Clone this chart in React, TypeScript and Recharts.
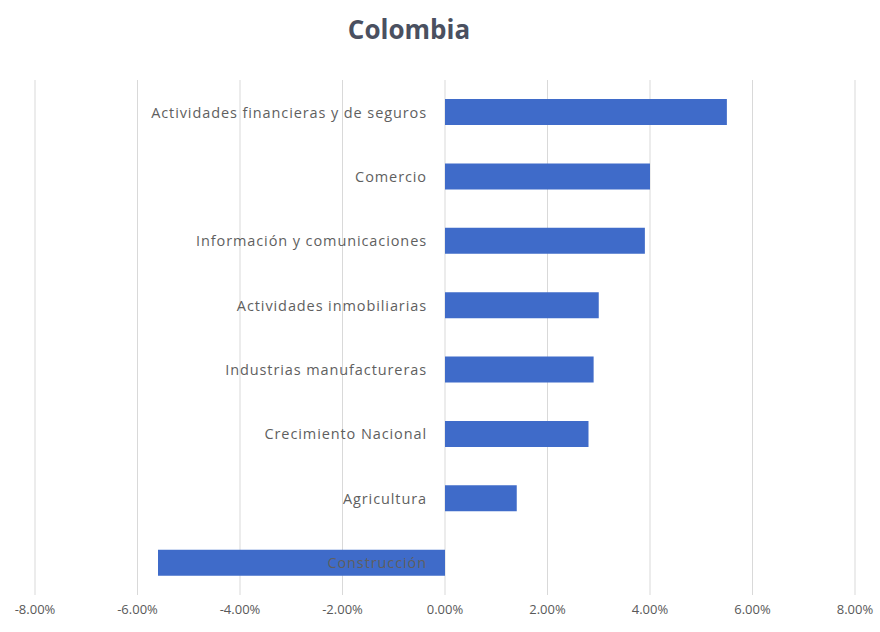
import React from "react";
import { BarChart, Bar, XAxis, YAxis, CartesianGrid, LabelList } from "recharts";

const categories = [
  "Actividades financieras y de seguros",
  "Comercio",
  "Información y comunicaciones",
  "Actividades inmobiliarias",
  "Industrias manufactureras",
  "Crecimiento Nacional",
  "Agricultura",
  "Construcción",
];
const growth = [5.5, 4.0, 3.9, 3.0, 2.9, 2.8, 1.4, -5.6];
const xTicks = [-8, -6, -4, -2, 0, 2, 4, 6, 8];

const data = categories.map((name, i) => ({ name, value: growth[i] }));

const CategoryLabel = (props: any) => {
  const { x, y, width, height, index } = props;
  const v = growth[index];
  const zeroX = v < 0 ? (width < 0 ? x : x + width) : x;
  return (
    <text
      x={zeroX - 18}
      y={y + height / 2}
      textAnchor="end"
      dominantBaseline="central"
      fill="#5f5f5f"
      fontSize={14.5}
      letterSpacing={0.9}
      fontFamily="'Open Sans', sans-serif"
    >
      {categories[index]}
    </text>
  );
};

export default function App() {
  return (
    <div style={{ position: "absolute", left: 0, top: 0, width: 880, height: 632, background: "#fff" }}>
      <div
        style={{
          position: "absolute",
          left: 0,
          top: 11,
          width: 818,
          textAlign: "center",
          fontFamily: "'Open Sans', sans-serif",
          fontWeight: 700,
          fontSize: 26,
          color: "#4a5060",
        }}
      >
        Colombia
      </div>
      <BarChart
        width={880}
        height={632}
        data={data}
        layout="vertical"
        margin={{ top: 80, right: 25, bottom: 7, left: 35 }}
        barCategoryGap={0}
      >
        <CartesianGrid horizontal={false} stroke="#d9d9d9" />
        <XAxis
          type="number"
          domain={[-8, 8]}
          ticks={xTicks}
          axisLine={false}
          tickLine={false}
          height={30}
          tickMargin={4}
          interval={0}
          tickFormatter={(v: number) => `${v.toFixed(2)}%`}
          tick={{ fill: "#595959", fontSize: 13, fontFamily: "'Open Sans', sans-serif" }}
        />
        <YAxis type="category" dataKey="name" hide width={0} />
        <Bar dataKey="value" fill="#3f6bc9" barSize={26} isAnimationActive={false}>
          <LabelList dataKey="value" content={CategoryLabel} />
        </Bar>
      </BarChart>
    </div>
  );
}
